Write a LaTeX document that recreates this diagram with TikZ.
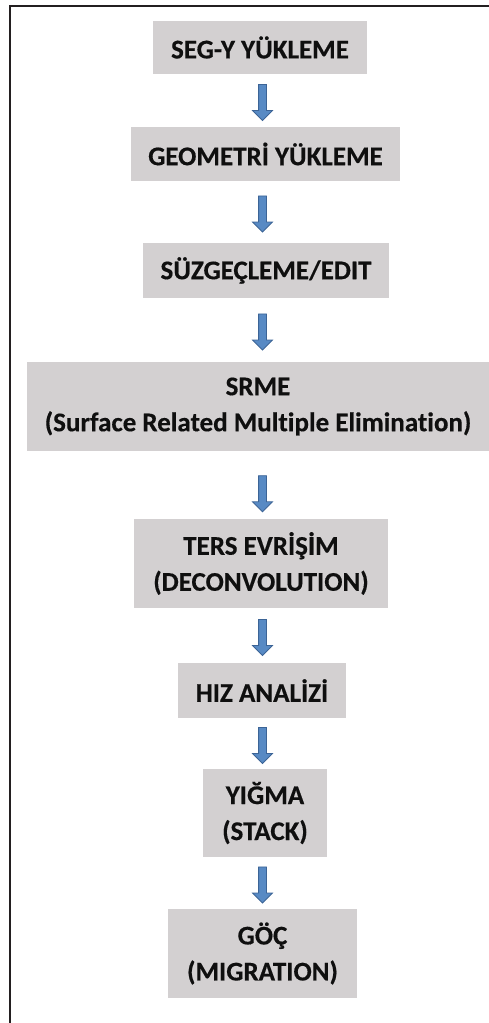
\documentclass[tikz,border=0pt]{standalone}
\usepackage{fontspec}
\setmainfont[Ligatures={NoCommon}, BoldFeatures={FakeBold=0.4}]{Carlito}
\usetikzlibrary{shapes.arrows}
\definecolor{boxgrey}{RGB}{211,208,209}
\definecolor{arrowblue}{RGB}{88,138,196}
\definecolor{arrowedge}{RGB}{60,100,150}
\definecolor{frameline}{RGB}{35,31,32}
\definecolor{textdark}{RGB}{15,15,15}
\tikzset{
  stepbox/.style={fill=boxgrey, draw=none, inner sep=0pt, align=center,
    font=\fontsize{27pt}{36pt}\selectfont\bfseries, text=textdark},
  flowarrow/.style={single arrow, shape border rotate=270, fill=arrowblue,
    draw=arrowedge, line width=0.8pt, minimum height=36pt, inner sep=3.5pt,
    single arrow head extend=6pt, single arrow tip angle=90},
  frame/.style={draw=frameline, line width=2pt}
}
\begin{document}
\begin{tikzpicture}[x=1pt,y=-1pt]
\useasboundingbox (0,0) rectangle (489,1023);
\coordinate (fl) at (9.8,1023);
\coordinate (fc) at (9.8,6);
\coordinate (fr) at (489,6);
\draw[frame] (fl) -- (fc) -- (fr);
\node[stepbox, minimum width=214pt, minimum height=53pt] (b1) at (260,47.5) {SEG-Y YÜKLEME};
\node[stepbox, minimum width=269pt, minimum height=54pt] (b2) at (265.5,154) {GEOMETRİ YÜKLEME};
\node[stepbox, minimum width=246pt, minimum height=55pt] (b3) at (266,270.5) {SÜZGEÇLEME/EDIT};
\node[stepbox, minimum width=462pt, minimum height=89pt] (b4) at (258,406.5) {SRME\\(Surface Related Multiple Elimination)};
\node[stepbox, minimum width=254pt, minimum height=89pt] (b5) at (261,563.5) {TERS EVRİŞİM\\(DECONVOLUTION)};
\node[stepbox, minimum width=168pt, minimum height=55pt] (b6) at (262,690.5) {HIZ ANALİZİ};
\node[stepbox, minimum width=124pt, minimum height=88pt] (b7) at (265,813) {YIĞMA\\(STACK)};
\node[stepbox, minimum width=189pt, minimum height=89pt] (b8) at (262.5,953.5) {GÖÇ\\(MIGRATION)};
\coordinate (ax) at (262.5,0);
\path (b1.south -| ax) -- (b2.north -| ax) node[midway, flowarrow] (a1) {};
\path (b2.south -| ax) -- (b3.north -| ax) node[midway, flowarrow] (a2) {};
\path (b3.south -| ax) -- (b4.north -| ax) node[midway, flowarrow] (a3) {};
\path (b4.south -| ax) -- (b5.north -| ax) node[pos=0.6, flowarrow] (a4) {};
\path (b5.south -| ax) -- (b6.north -| ax) node[midway, flowarrow] (a5) {};
\path (b6.south -| ax) -- (b7.north -| ax) node[midway, flowarrow] (a6) {};
\path (b7.south -| ax) -- (b8.north -| ax) node[midway, flowarrow] (a7) {};
\end{tikzpicture}
\end{document}
